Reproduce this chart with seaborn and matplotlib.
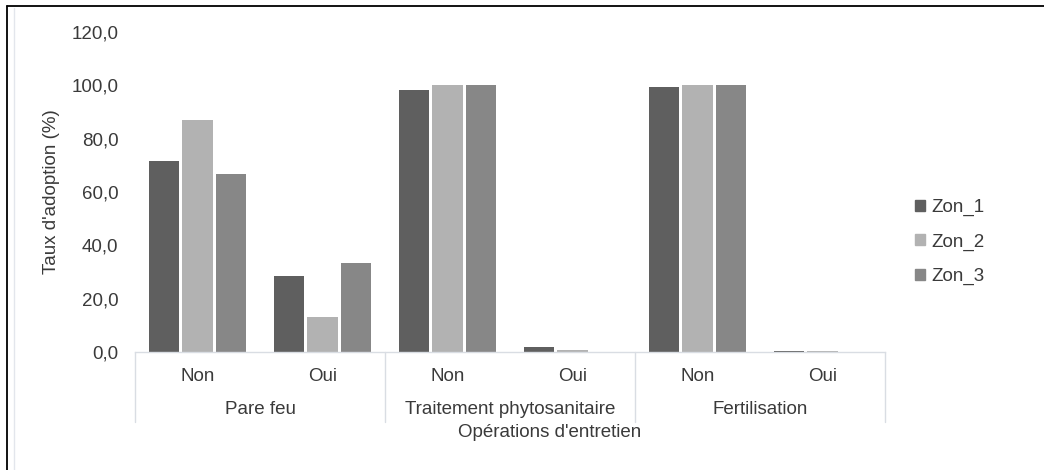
import pandas as pd
import matplotlib
matplotlib.use("Agg")
import matplotlib.pyplot as plt
import seaborn as sns
from matplotlib.patches import Rectangle
from matplotlib.lines import Line2D

# values
operations = ["Pare feu", "Traitement phytosanitaire", "Fertilisation"]
answers = ["Non", "Oui"]
zones = ["Zon_1", "Zon_2", "Zon_3"]
zon_1 = [71.6, 28.6, 98.3, 1.9, 99.5, 0.5]
zon_2 = [87.0, 13.3, 100.0, 0.6, 100.0, 0.5]
zon_3 = [66.7, 33.5, 100.0, 0.0, 100.0, 0.0]
colors = ["#5f5f5f", "#b2b2b2", "#878787"]

cats = [op + "|" + a for op in operations for a in answers]
df = pd.DataFrame({"cat": cats * 3,
                   "zone": [z for z in zones for _ in cats],
                   "taux": zon_1 + zon_2 + zon_3})

sns.set_style("white")
plt.rcParams["font.family"] = ["Liberation Sans", "DejaVu Sans"]
fs = 13.5
txt = "#3a3a3a"

fig = plt.figure(figsize=(10.44, 4.7), dpi=100)
ax = fig.add_axes([0.1293, 0.251, 0.7184, 0.681])

sns.barplot(data=df, x="cat", y="taux", hue="zone", palette=colors,
            width=0.8, gap=0.09, ax=ax, legend=False, saturation=1,
            edgecolor="none")

ax.set_xlim(-0.5, 5.5)
ax.set_ylim(0, 120)
ax.set_yticks(range(0, 121, 20))
ax.set_yticklabels([f"{v},0" for v in range(0, 121, 20)], color=txt, fontsize=fs)
ax.tick_params(axis="y", length=0, pad=12)
ax.set_xticks([])
ax.set_xlabel("")
ax.set_ylabel("Taux d'adoption (%)", color=txt, fontsize=fs, labelpad=8)
for s in ["top", "right", "left"]:
    ax.spines[s].set_visible(False)
ax.spines["bottom"].set_color("#d9dde3")
ax.spines["bottom"].set_linewidth(1)

# two-level category axis
sep = "#d9dde3"
trans = ax.get_xaxis_transform()
for i, op in enumerate(operations):
    for j, a in enumerate(answers):
        ax.text(2 * i + j, -0.075, a, transform=trans,
                ha="center", va="center", color=txt, fontsize=fs)
    ax.text(2 * i + 0.5, -0.18, op, transform=trans,
            ha="center", va="center", color=txt, fontsize=fs)
for xs in [-0.5, 1.5, 3.5, 5.5]:
    ax.add_line(Line2D([xs, xs], [0, -0.22], transform=trans,
                       color=sep, lw=1, clip_on=False))
ax.text(2.82, -0.25, "Opérations d'entretien", transform=trans,
        ha="center", va="center", color=txt, fontsize=fs)

handles = [Rectangle((0, 0), 1, 1, color=c) for c in colors]
fig.legend(handles, zones, loc="center left", bbox_to_anchor=(0.876, 0.485),
           frameon=False, handlelength=0.55, handleheight=0.55,
           handletextpad=0.35, labelspacing=0.92, fontsize=fs,
           labelcolor=txt, borderpad=0, borderaxespad=0)

# outer frame: only top and left edges show
fig.add_artist(Line2D([7 / 1044, 1], [1 - 6 / 470, 1 - 6 / 470],
                      transform=fig.transFigure, color="black", lw=1.3))
fig.add_artist(Line2D([7 / 1044, 7 / 1044], [0, 1 - 6 / 470],
                      transform=fig.transFigure, color="black", lw=1.3))
fig.add_artist(Line2D([13.5 / 1044, 13.5 / 1044], [0, 1 - 8 / 470],
                      transform=fig.transFigure, color="#e3e6ec", lw=1))

fig.savefig("out.png", dpi=100)
